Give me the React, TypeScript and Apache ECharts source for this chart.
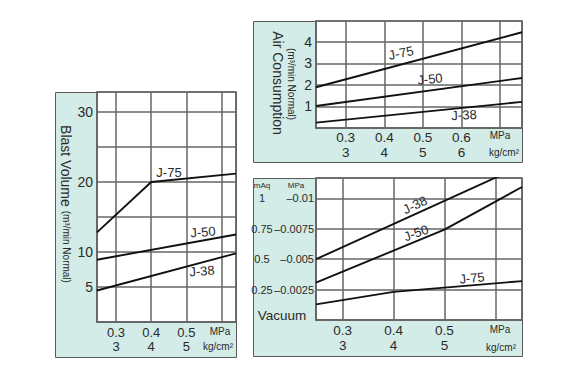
import React, { useEffect, useRef } from "react";
import * as echarts from "echarts";

// ---- Blast volume (left panel) ----
const blastJ75 = [[0.246, 12.8], [0.4, 20.0], [0.641, 21.2]];
const blastJ50 = [[0.246, 8.9], [0.641, 12.5]];
const blastJ38 = [[0.246, 4.5], [0.641, 9.8]];
const blastYTicks = [5, 10, 20, 30];
const blastXTicks = [0.3, 0.4, 0.5];

// ---- Air consumption (top right) ----
const airJ75 = [[0.223, 1.89], [0.757, 4.44]];
const airJ50 = [[0.223, 1.02], [0.757, 2.32]];
const airJ38 = [[0.223, 0.25], [0.757, 1.21]];
const airYTicks = [1, 2, 3, 4];
const airXTicks = [0.3, 0.4, 0.5, 0.6];

// ---- Vacuum (bottom right), y in mAq ----
const vacJ38 = [[0.2475, 0.5], [0.6525, 1.27]];
const vacJ50 = [[0.2475, 0.307], [0.5, 0.744], [0.6525, 1.094]];
const vacJ75 = [[0.2475, 0.129], [0.4, 0.231], [0.6525, 0.32]];
const vacMaqTicks = [0.25, 0.5, 0.75, 1];
const vacMpaLabels = ["–0.0025", "–0.005", "–0.0075", "–0.01"];
const vacXTicks = [0.3, 0.4, 0.5];

const FONT = "'Liberation Sans', Arial, Helvetica, sans-serif";
const TEXT = "#2a2a2a";
const GRIDC = "#666";
const PANEL = "#d3ece7";
const LINE = "#111";

const near = (a: number, b: number) => Math.abs(a - b) < 1e-6;

function makeX(gridIndex: number, min: number, max: number, ticks: number[], fontSize: number, lineHeight: number, margin: number) {
  return {
    type: "value",
    gridIndex,
    min,
    max,
    minInterval: 0.1,
    maxInterval: 0.1,
    axisLine: { show: true, lineStyle: { color: GRIDC, width: 1.5 } },
    axisTick: { show: false },
    splitLine: { show: true, lineStyle: { color: GRIDC, width: 1.5 } },
    axisLabel: {
      margin,
      fontSize,
      color: TEXT,
      fontFamily: FONT,
      lineHeight,
      formatter: (v: number) => {
        const t = ticks.find((k) => near(k, v));
        return t === undefined ? "" : `${t.toFixed(1)}\n${Math.round(t * 10)}`;
      },
    },
  };
}

function makeY(gridIndex: number, max: number, interval: number, labelOpt: any) {
  return {
    type: "value",
    gridIndex,
    position: "left",
    min: 0,
    max,
    interval,
    axisLine: { show: true, lineStyle: { color: GRIDC, width: 1.5 } },
    axisTick: { show: false },
    splitLine: { show: true, lineStyle: { color: GRIDC, width: 1.5 } },
    axisLabel: { margin: 4, fontSize: 14, color: TEXT, fontFamily: FONT, ...labelOpt },
  };
}

function line(data: number[][], xAxisIndex: number, yAxisIndex: number) {
  return {
    type: "line",
    data,
    xAxisIndex,
    yAxisIndex,
    symbol: "none",
    showSymbol: false,
    clip: true,
    lineStyle: { color: LINE, width: 1.9 },
    z: 3,
  };
}

function txt(text: string, x: number, y: number, fontSize: number, rotDeg = 0, extra: any = {}) {
  return {
    type: "text",
    x,
    y,
    rotation: (rotDeg * Math.PI) / 180,
    z: 100,
    silent: true,
    style: {
      text,
      fontSize,
      fontFamily: FONT,
      fill: TEXT,
      align: "center",
      verticalAlign: "middle",
      ...extra,
    },
  };
}

function panel(x: number, y: number, w: number, h: number) {
  return {
    type: "rect",
    z: -10,
    silent: true,
    shape: { x: x + 0.5, y: y + 0.5, width: w, height: h },
    style: { fill: PANEL, stroke: "#5a5a5a", lineWidth: 1 },
  };
}

const pick = (ticks: number[]) => (v: number) => (ticks.some((k) => near(k, v)) ? String(v) : "");

export default function App() {
  const ref = useRef<HTMLDivElement>(null);
  useEffect(() => {
    if (!ref.current) return;
    const chart = echarts.init(ref.current, undefined, { renderer: "svg" });
    const gridStyle = { show: true, backgroundColor: "#fff", borderColor: GRIDC, borderWidth: 1.5, containLabel: false };
    const titleRich = {
      a: { fontSize: 14, fontFamily: FONT, fill: TEXT },
      b: { fontSize: 10, fontFamily: FONT, fill: TEXT },
    };
    chart.setOption({
      animation: false,
      backgroundColor: "#fff",
      grid: [
        { ...gridStyle, left: 97, top: 92, width: 139, height: 230 },
        { ...gridStyle, left: 316, top: 21, width: 206, height: 107 },
        { ...gridStyle, left: 316, top: 178, width: 206, height: 142 },
      ],
      xAxis: [
        makeX(0, 0.246, 0.641, blastXTicks, 13, 14, 3),
        makeX(1, 0.223, 0.757, airXTicks, 13.5, 15, 2),
        makeX(2, 0.2475, 0.6525, vacXTicks, 13.5, 15, 3),
      ],
      yAxis: [
        makeY(0, 32.86, 5, { formatter: pick(blastYTicks) }),
        makeY(1, 4.96, 1, { formatter: pick(airYTicks) }),
        makeY(2, 1.168, 0.25, {
          margin: 2,
          fontSize: 11,
          formatter: (v: number) => {
            const i = vacMaqTicks.findIndex((k) => near(k, v));
            return i < 0 ? "" : vacMpaLabels[i];
          },
        }),
        {
          type: "value",
          gridIndex: 2,
          position: "left",
          min: 0,
          max: 1.168,
          interval: 0.25,
          offset: 54,
          axisLine: { show: false },
          axisTick: { show: false },
          splitLine: { show: false },
          axisLabel: {
            margin: 0,
            align: "center",
            fontSize: 11,
            color: TEXT,
            fontFamily: FONT,
            formatter: pick(vacMaqTicks),
          },
        },
      ],
      series: [
        line(blastJ75, 0, 0),
        line(blastJ50, 0, 0),
        line(blastJ38, 0, 0),
        line(airJ75, 1, 1),
        line(airJ50, 1, 1),
        line(airJ38, 1, 1),
        line(vacJ38, 2, 2),
        line(vacJ50, 2, 2),
        line(vacJ75, 2, 2),
      ],
      graphic: [
        panel(55, 92, 181, 265),
        panel(253, 21, 269, 141),
        panel(253, 178, 269, 178),
        // axis titles
        txt("{a|Blast Volume} {b|(m³/min Normal)}", 66, 204, 14, -90, { rich: titleRich }),
        txt("Air Consumption", 278, 83, 14, -90),
        txt("(m³/min Normal)", 291, 84, 10, -90),
        txt("Vacuum", 282, 315, 13.5),
        txt("mAq", 262, 185, 8),
        txt("MPa", 296, 185, 8),
        // unit labels
        txt("MPa", 220, 331, 10),
        txt("kg/cm²", 218, 346, 10),
        txt("MPa", 500, 135, 10),
        txt("kg/cm²", 504, 152, 10),
        txt("MPa", 500, 329, 10),
        txt("kg/cm²", 501, 347, 10),
        // series labels
        txt("J-75", 169, 172, 13, 0),
        txt("J-50", 203, 232, 13, 5),
        txt("J-38", 202, 271, 13, 5),
        txt("J-75", 401, 53, 13, 12),
        txt("J-50", 430, 79, 13, 6),
        txt("J-38", 464, 115, 13, 3),
        txt("J-38", 415, 205, 13, 26),
        txt("J-50", 416, 233, 13, 20),
        txt("J-75", 472, 278, 13, 6),
      ],
    });
    return () => chart.dispose();
  }, []);
  return (
    <div
      ref={ref}
      style={{ position: "fixed", left: 0, top: 0, width: 574, height: 380, background: "#fff" }}
    />
  );
}
